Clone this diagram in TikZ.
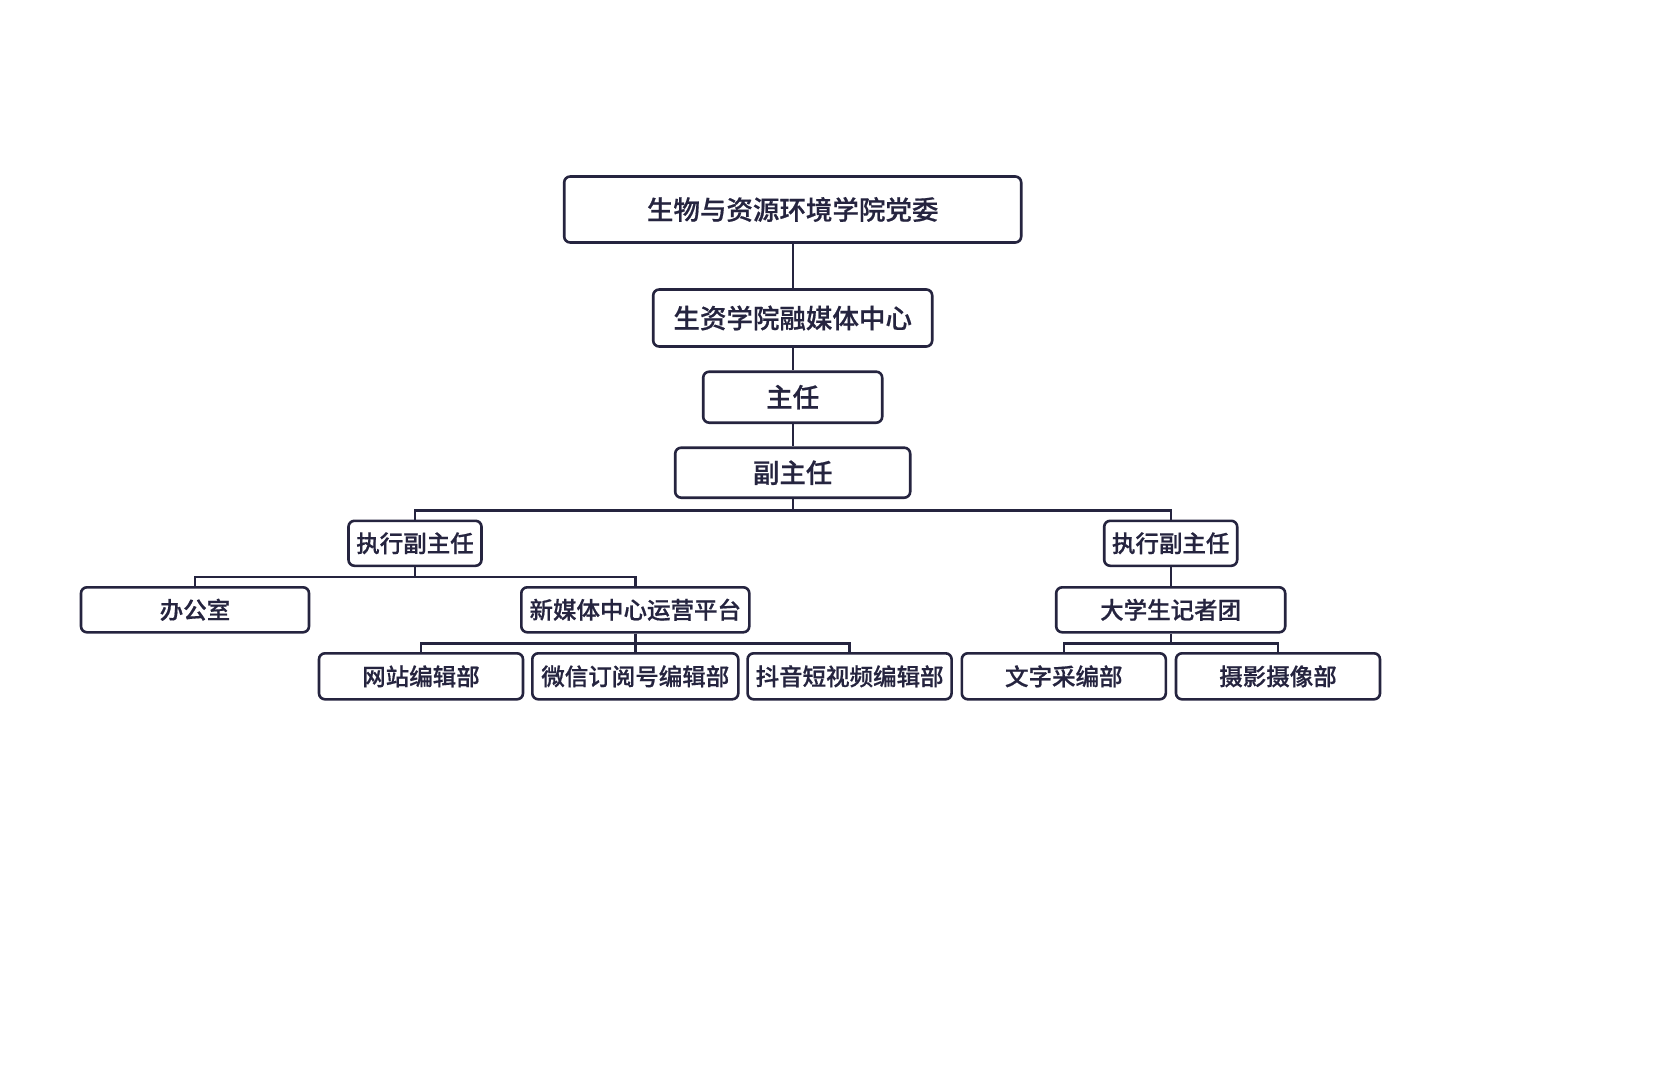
\documentclass[tikz,border=0pt]{standalone}
\usepackage{fontspec}
\newfontfamily\cjk{Noto Sans CJK SC Medium}[BoldFont={Noto Sans CJK SC Medium},BoldFeatures={FakeBold=0.6}]
\definecolor{ink}{HTML}{25243F}
\begin{document}
\begin{tikzpicture}[x=1pt,y=-1pt,
  box/.style={draw=ink,line width=2.6pt,rounded corners=6pt,text=ink,inner sep=0pt,font=\cjk\bfseries\fontsize{23.5}{28}\selectfont},
  bigbox/.style={box,font=\cjk\bfseries\fontsize{26.5}{30}\selectfont},
  conn/.style={draw=ink,line width=2.4pt}]
\useasboundingbox (0,0) rectangle (1674,1078);
\fill[white] (0,0) rectangle (1674,1078);
% top levels
\node[bigbox,minimum width=457pt,minimum height=66pt] (party) at (792.7,209.5) {生物与资源环境学院党委};
\node[bigbox,minimum width=279pt,minimum height=57pt] (center) at (792.7,318) {生资学院融媒体中心};
\node[bigbox,minimum width=179pt,minimum height=51pt] (head) at (792.7,397.2) {主任};
\node[bigbox,minimum width=235pt,minimum height=50pt] (vice) at (792.7,472.7) {副主任};
% executive vice heads
\node[box,minimum width=133pt,minimum height=45pt] (execL) at (415,543.3) {执行副主任};
\node[box,minimum width=133pt,minimum height=45pt] (execR) at (1170.7,543.3) {执行副主任};
% third level
\node[box,minimum width=228pt,minimum height=45pt] (office) at (195,609.8) {办公室};
\node[box,minimum width=228pt,minimum height=45pt] (platform) at (635.3,609.8) {新媒体中心运营平台};
\node[box,minimum width=229pt,minimum height=45pt] (press) at (1170.7,609.8) {大学生记者团};
% bottom level
\node[box,minimum width=204pt,minimum height=46pt] (web) at (421,676.3) {网站编辑部};
\node[box,minimum width=206pt,minimum height=46pt] (wechat) at (635.3,676.3) {微信订阅号编辑部};
\node[box,minimum width=204pt,minimum height=46pt] (douyin) at (849.6,676.3) {抖音短视频编辑部};
\node[box,minimum width=204pt,minimum height=46pt] (text) at (1063.8,676.3) {文字采编部};
\node[box,minimum width=204pt,minimum height=46pt] (photo) at (1278,676.3) {摄影摄像部};
% connectors
\draw[conn] (party) -- (center);
\draw[conn] (center) -- (head);
\draw[conn] (head) -- (vice);
\draw[conn] (vice.south) -- ++(0,11.6) -| (execL.north);
\draw[conn] (vice.south) ++(0,11.6) -| (execR.north);
\draw[conn] (execL.south) -- ++(0,10) -| (office.north);
\draw[conn] (execL.south) ++(0,10) -| (platform.north);
\draw[conn] (execR) -- (press);
\draw[conn] (platform.south) -- ++(0,10) -| (web.north);
\draw[conn] (platform) -- (wechat);
\draw[conn] (platform.south) ++(0,10) -| (douyin.north);
\draw[conn] (press.south) -- ++(0,10) -| (text.north);
\draw[conn] (press.south) ++(0,10) -| (photo.north);
\end{tikzpicture}
\end{document}
